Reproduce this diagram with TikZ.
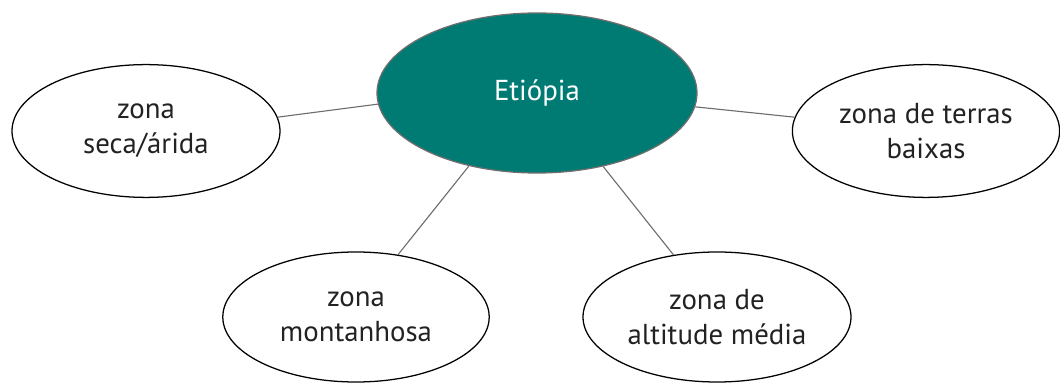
\documentclass[tikz,border=0pt]{standalone}
\usepackage{fontspec}
\setmainfont{PT Sans}
\usetikzlibrary{shapes.geometric}
\definecolor{ettteal}{HTML}{007B73}
\definecolor{linkgrey}{HTML}{6E6E6E}
\definecolor{textgrey}{HTML}{222222}

\begin{document}
\begin{tikzpicture}[x=0.25mm,y=-0.25mm,
	zone/.style = {ellipse,
		draw=black, line width=0.9pt,
		inner sep=0pt, align=center,
		text=textgrey,
		font=\fontsize{20.5}{25}\selectfont},
	centre/.style = {ellipse,
		draw=linkgrey, line width=0.9pt,
		fill=ettteal, text=white,
		inner sep=0pt,
		minimum width=80mm, minimum height=40mm,
		font=\fontsize{20.5}{25}\selectfont},
	link/.style = {draw=linkgrey, line width=0.8pt}]
	
	\useasboundingbox (0,0) rectangle (1060,383);
	
	% Centre
	\node[centre] (etiopia) at (537,93) {Eti\'opia};
	
	% Zones
	\node[zone,minimum width=67mm,minimum height=33.2mm] (seca) at (146,131) {zona\\seca/\'arida};
	\node[zone,minimum width=66.8mm,minimum height=33.2mm] (terras) at (926,131) {zona de terras\\baixas};
	\node[zone,minimum width=66.6mm,minimum height=32.5mm] (monta) at (356,317) {zona\\montanhosa};
	\node[zone,minimum width=67mm,minimum height=32.5mm] (media) at (717,317) {zona de\\altitude m\'edia};
	
	% Links
	\draw[link] (etiopia.184) -- (seca.6);
	\draw[link] (etiopia.355) -- (terras.174);
	\draw[link] (etiopia.227) -- (monta.56);
	\draw[link] (etiopia.312) -- (media.125);
	
\end{tikzpicture}
\end{document}
